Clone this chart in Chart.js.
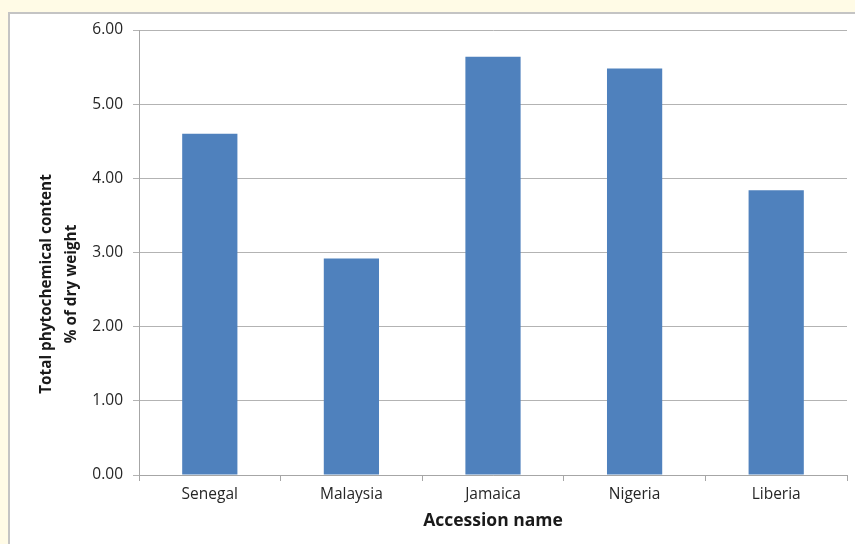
<!DOCTYPE html>
<html>
<head>
<meta charset="utf-8">
<script src="https://cdn.jsdelivr.net/npm/chart.js@4"></script>
<style>
  html, body { margin: 0; padding: 0; }
  body { width: 855px; height: 544px; background: #fffbe6; position: relative; overflow: hidden; }
  #box { position: absolute; left: 8px; top: 12px; width: 847px; height: 532px; background: #fff;
         border-top: 2px solid #c4c4c4; border-left: 2px solid #c4c4c4; box-sizing: border-box; }
  #myChart { position: absolute; left: 0; top: 0; }
</style>
</head>
<body>
<div id="box"><canvas id="myChart" width="845" height="530"></canvas></div>
<script>
// dữ liệu
const categories = ['Senegal', 'Malaysia', 'Jamaica', 'Nigeria', 'Liberia'];
const values = [4.60, 2.92, 5.64, 5.48, 3.84];
const yTitleLines = ['Total phytochemical content', '% of dry weight'];
const xTitle = 'Accession name';

const FONT = '"Open Sans", sans-serif';

// tiêu đề trục y, vẽ lệch xuống như bản gốc
const yTitlePlugin = {
  id: 'yTitlePlugin',
  afterDraw(chart) {
    const ctx = chart.ctx;
    ctx.save();
    ctx.translate(37, 270);
    ctx.rotate(-Math.PI / 2);
    ctx.fillStyle = '#1a1a1a';
    ctx.font = 'bold 15.3px ' + FONT;
    ctx.textAlign = 'center';
    ctx.textBaseline = 'middle';
    yTitleLines.forEach((t, i) => ctx.fillText(t, 0, i * 25));
    ctx.restore();
  }
};

const ctx = document.getElementById('myChart');
const myChart = new Chart(ctx, {
  type: 'bar',
  data: {
    labels: categories,
    datasets: [{
      data: values,
      backgroundColor: '#4f81bd',
      barPercentage: 0.39,
      categoryPercentage: 1
    }]
  },
  options: {
    responsive: false,
    animation: false,
    layout: { padding: { left: 0, top: 16, right: 8, bottom: 0 } },
    plugins: { legend: { display: false }, tooltip: { enabled: false } },
    scales: {
      x: {
        grid: { drawOnChartArea: false, drawTicks: true, tickLength: 6, color: '#a6a6a6' },
        border: { color: '#a6a6a6' },
        ticks: { color: '#262626', font: { family: FONT, size: 15.5 }, padding: 4 },
        title: { display: true, text: xTitle, color: '#1a1a1a',
                 font: { family: FONT, size: 17.5, weight: 'bold', lineHeight: '22px' },
                 padding: { top: 0, bottom: 12 } },
        afterFit(s) { s.height = 69; }
      },
      y: {
        min: 0, max: 6,
        grid: { color: '#b3b3b3', tickLength: 6 },
        border: { color: '#a6a6a6' },
        ticks: { stepSize: 1, color: '#262626', font: { family: FONT, size: 15.5 }, padding: 10,
                 callback: v => v.toFixed(2) },
        afterFit(s) { s.width = 129; s.paddingTop = 0; s.paddingBottom = 0; }
      }
    }
  },
  plugins: [yTitlePlugin]
});
</script>
</body>
</html>
